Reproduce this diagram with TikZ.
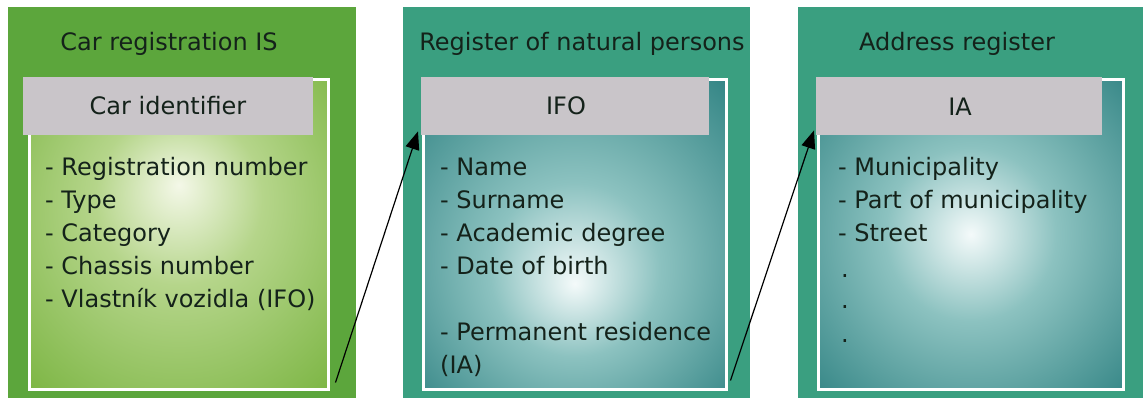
\documentclass[tikz,border=0pt]{standalone}
\usepackage{fontspec}
\setmainfont{DejaVu Sans}
\usetikzlibrary{arrows.meta}
\definecolor{gpanel}{HTML}{5CA63C}
\definecolor{tpanel}{HTML}{3A9F80}
\definecolor{gedge}{HTML}{76B23C}
\definecolor{gmid}{HTML}{B5D58A}
\definecolor{gcent}{HTML}{F4F8E8}
\definecolor{tedge}{HTML}{2F8282}
\definecolor{tmid}{HTML}{8CC2C0}
\definecolor{tcent}{HTML}{F4FAFA}
\definecolor{hdgray}{HTML}{C9C5C9}
\definecolor{txt}{HTML}{14221A}
\pgfdeclareradialshading{shgreen}{\pgfpoint{0bp}{8bp}}{color(0bp)=(gcent); color(14bp)=(gmid); color(40bp)=(gedge); color(50bp)=(gedge)}
\pgfdeclareradialshading{shtealA}{\pgfpoint{0bp}{-8bp}}{color(0bp)=(tcent); color(14bp)=(tmid); color(38bp)=(tedge); color(50bp)=(tedge)}
\pgfdeclareradialshading{shtealB}{\pgfpoint{0bp}{0bp}}{color(0bp)=(tcent); color(14bp)=(tmid); color(38bp)=(tedge); color(50bp)=(tedge)}
\tikzset{
  panel/.style={rectangle, draw=none, anchor=north west, inner sep=0pt},
  inbox/.style={rectangle, draw=white, line width=2.5pt, anchor=north west, inner sep=0pt},
  hdbox/.style={rectangle, fill=hdgray, anchor=north west, inner sep=0pt},
  ttl/.style={text=txt, font=\fontsize{24}{28}\selectfont, inner sep=0pt, anchor=base},
  itm/.style={text=txt, font=\fontsize{24}{28}\selectfont, inner sep=0pt, anchor=base west},
  link/.style={black, line width=1.2pt, -{Triangle[length=18pt,width=14pt]}}
}
\begin{document}
\begin{tikzpicture}[x=1pt,y=-1pt]
\useasboundingbox (0,0) rectangle (1143,404);
% panels
\node[panel, fill=gpanel, minimum width=348pt, minimum height=391pt] (p1) at (8,7) {};
\node[panel, fill=tpanel, minimum width=347pt, minimum height=391pt] (p2) at (403,7) {};
\node[panel, fill=tpanel, minimum width=345pt, minimum height=391pt] (p3) at (798,7) {};
% inner boxes
\node[inbox, shading=shgreen, minimum width=299pt, minimum height=310pt] (b1) at (28,78) {};
\node[inbox, shading=shtealA, minimum width=303pt, minimum height=310pt] (b2) at (422,78) {};
\node[inbox, shading=shtealB, minimum width=305pt, minimum height=310pt] (b3) at (817,78) {};
% headers
\node[hdbox, minimum width=290pt, minimum height=58pt] (h1) at (23,77) {};
\node[hdbox, minimum width=288pt, minimum height=58pt] (h2) at (421,77) {};
\node[hdbox, minimum width=286pt, minimum height=58pt] (h3) at (816,77) {};
% titles
\node[ttl] (t1) at (169,51) {Car registration IS};
\node[ttl] (t2) at (582,51) {Register of natural persons};
\node[ttl] (t3) at (957,51) {Address register};
\node[ttl] (k1) at (168,114) {Car identifier};
\node[ttl] (k2) at (566,114) {IFO};
\node[ttl] (k3) at (960,115) {IA};
% panel 1 items
\node[itm] (a1) at (45,175) {- Registration number};
\node[itm] (a2) at (45,208) {- Type};
\node[itm] (a3) at (45,241) {- Category};
\node[itm] (a4) at (45,274) {- Chassis number};
\node[itm] (a5) at (45,307) {- Vlastník vozidla (IFO)};
% panel 2 items
\node[itm] (c1) at (440,175) {- Name};
\node[itm] (c2) at (440,208) {- Surname};
\node[itm] (c3) at (440,241) {- Academic degree};
\node[itm] (c4) at (440,274) {- Date of birth};
\node[itm] (c5) at (440,340) {- Permanent residence};
\node[itm] (c6) at (440,373) {(IA)};
% panel 3 items
\node[itm] (d1) at (838,175) {- Municipality};
\node[itm] (d2) at (838,208) {- Part of municipality};
\node[itm] (d3) at (838,241) {- Street};
\node[itm] (d4) at (841,277) {.};
\node[itm] (d5) at (841,308) {.};
\node[itm] (d6) at (841,342) {.};
% connectors
\draw[link] ([shift={(6,-8)}]b1.south east) -- ([shift={(-3,-4)}]h2.south west);
\draw[link] ([shift={(3,-10)}]b2.south east) -- ([shift={(-2,-5)}]h3.south west);
\end{tikzpicture}
\end{document}
